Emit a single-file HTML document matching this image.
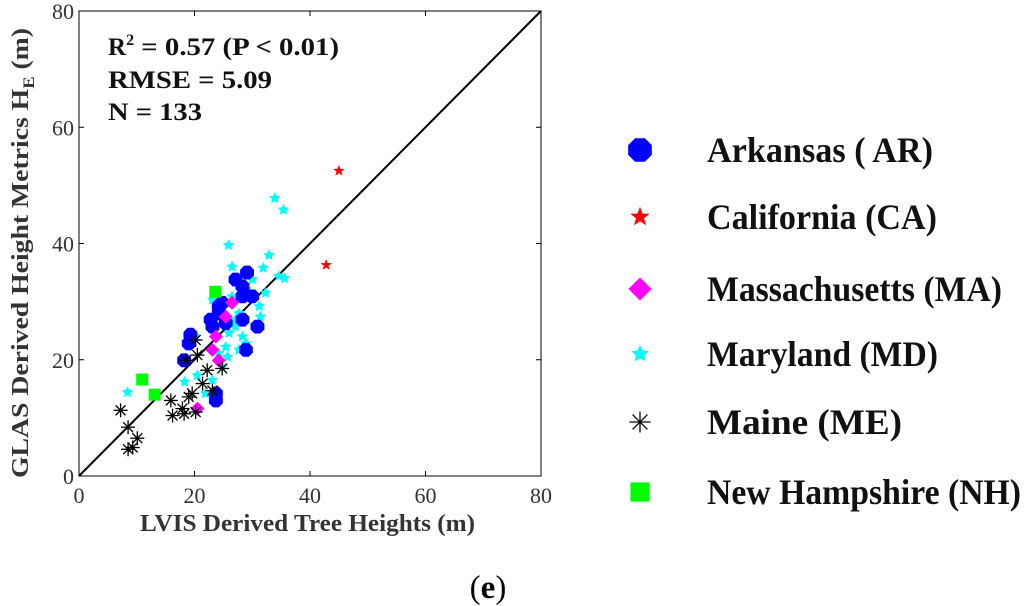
<!DOCTYPE html>
<html><head><meta charset="utf-8"><style>
body{margin:0;background:#fff;}
svg{display:block;font-family:"Liberation Serif",serif;}
</style></head><body>
<svg id="chart" width="1024" height="606" xmlns="http://www.w3.org/2000/svg"></svg>
<script>
const xTicks=[0,20,40,60,80];
const yTicks=[0,20,40,60,80];
const arX=[29.1,28.3,28.3,24.2,22.8,23.1,30.9,28.9,19.3,19.0,18.2,23.7,24.2,27.1,30.0,24.8,28.3,25.4,23.7];
const arY=[35.0,32.6,30.9,29.2,26.9,25.7,25.7,21.7,24.3,22.8,19.9,13.0,28.0,33.8,30.9,29.8,26.9,26.3,14.2];
const caX=[45.0,42.8];
const caY=[52.5,36.3];
const maX=[25.4,23.7,23.1,24.2,20.5,26.5];
const maY=[27.4,24.0,21.7,19.9,11.6,29.8];
const mdX=[33.9,35.4,25.9,32.9,26.5,31.9,35.6,34.6,27.7,28.9,32.3,31.2,31.4,23.1,24.2,27.7,27.1,26.0,28.3,28.9,25.4,24.2,20.2,20.5,18.3,8.4,21.9,23.1,24.8,26.5,30.0,27.1,23.7,25.7,27.7];
const mdY=[47.8,45.8,39.7,38.0,36.0,35.8,34.0,34.4,33.8,32.1,31.5,29.2,27.4,30.3,29.2,28.0,25.7,24.6,24.0,22.8,22.2,21.1,24.0,17.3,16.2,14.4,14.2,16.5,18.8,30.9,33.8,26.9,25.7,20.5,21.7];
const meX=[7.2,8.5,10.1,8.5,9.3,15.9,16.2,17.9,19.0,20.2,21.4,22.2,23.1,24.8,20.2,20.5,18.5,19.6,18.2];
const meY=[11.3,8.4,6.5,4.6,4.9,13.0,10.4,11.6,13.6,11.0,15.9,18.2,14.7,18.5,23.4,20.8,19.9,14.2,10.7];
const nhX=[10.95,13.1,23.6];
const nhY=[16.6,14.0,31.7];
const legendLabels=["Arkansas ( AR)","California (CA)","Massachusetts (MA)","Maryland (MD)","Maine (ME)","New Hampshire (NH)"];
const legendWidths=[226,230,295,231,195,314];

const NS="http://www.w3.org/2000/svg";
const svg=document.getElementById('chart');
const X0=79,X1=541,Y0=476,Y1=11;
const sx=v=>X0+(v/80)*(X1-X0);
const sy=v=>Y0-(v/80)*(Y0-Y1);
function mk(tag,at,parent){const e=document.createElementNS(NS,tag);for(const k in at)e.setAttribute(k,at[k]);(parent||svg).appendChild(e);return e;}
function starPts(cx,cy,R,r){let p=[];for(let i=0;i<10;i++){const a=-Math.PI/2+i*Math.PI/5;const rr=i%2?r:R;p.push((cx+rr*Math.cos(a)).toFixed(1)+','+(cy+rr*Math.sin(a)).toFixed(1));}return p.join(' ');}
function octPts(cx,cy,R){let p=[];for(let i=0;i<8;i++){const a=Math.PI/8+i*Math.PI/4;p.push((cx+R*Math.cos(a)).toFixed(1)+','+(cy+R*Math.sin(a)).toFixed(1));}return p.join(' ');}
function marker(type,cx,cy,g,scale){
  scale=scale||1;
  if(type==='ar')return mk('polygon',{points:octPts(cx,cy,7.5*scale),fill:'#0000ff'},g);
  if(type==='ca')return mk('polygon',{points:starPts(cx,cy,6*scale,2.5*scale),fill:'#ff0000'},g);
  if(type==='ma')return mk('polygon',{points:`${cx},${cy-7*scale} ${cx+7*scale},${cy} ${cx},${cy+7*scale} ${cx-7*scale},${cy}`,fill:'#ff00ff'},g);
  if(type==='md')return mk('polygon',{points:starPts(cx,cy,6*scale,3*scale),fill:'#00ffff'},g);
  if(type==='nh')return mk('rect',{x:cx-6*scale,y:cy-6*scale,width:12*scale,height:12*scale,fill:'#00ff00'},g);
  if(type==='me'){const gg=mk('g',{stroke:'#000','stroke-width':1.3},g);const R=7*scale;
    for(let i=0;i<4;i++){const a=i*Math.PI/4;mk('line',{x1:cx-R*Math.cos(a),y1:cy-R*Math.sin(a),x2:cx+R*Math.cos(a),y2:cy+R*Math.sin(a)},gg);}return gg;}
}
const box=mk('rect',{x:X0,y:Y1,width:X1-X0,height:Y0-Y1,fill:'none',stroke:'#000','stroke-width':1});

const xg=mk('g',{});
xTicks.forEach(t=>{mk('line',{x1:sx(t),x2:sx(t),y1:Y0,y2:Y0-5,stroke:'#000'},xg);mk('line',{x1:sx(t),x2:sx(t),y1:Y1,y2:Y1+5,stroke:'#000'},xg);
  const tx=mk('text',{x:sx(t),y:Y0+27,'text-anchor':'middle','font-size':22,fill:'#333'},xg);tx.textContent=t;
  });
const yg=mk('g',{});
yTicks.forEach(t=>{mk('line',{x1:X0,x2:X0+5,y1:sy(t),y2:sy(t),stroke:'#000'},yg);mk('line',{x1:X1,x2:X1-5,y1:sy(t),y2:sy(t),stroke:'#000'},yg);
  const tx=mk('text',{x:X0-5,y:sy(t)+8,'text-anchor':'end','font-size':22,fill:'#333'},yg);tx.textContent=t;
  });
const ln=mk('line',{x1:sx(0),y1:sy(0),x2:sx(80),y2:sy(80),stroke:'#000','stroke-width':2});

const series=[['md',mdX,mdY],['ar',arX,arY],['ma',maX,maY],['me',meX,meY],['nh',nhX,nhY],['ca',caX,caY]];
series.forEach(([t,xs,ys])=>{const g=mk('g',{});
  xs.forEach((v,i)=>{const m=marker(t,sx(v),sy(ys[i]),g);});});
const xt=mk('text',{x:140,y:531,'font-size':24,'font-weight':'bold',fill:'#333',textLength:335,lengthAdjust:'spacingAndGlyphs'});xt.textContent='LVIS Derived Tree Heights (m)';

const yt=mk('text',{transform:'translate(28,478) rotate(-90)','font-size':24,'font-weight':'bold',fill:'#333',textLength:450,lengthAdjust:'spacingAndGlyphs'});
yt.innerHTML='GLAS Derived Height Metrics H<tspan font-size="16" dy="6">E</tspan><tspan dy="-6"> (m)</tspan>';

const st=mk('g',{'font-size':25,'font-weight':'bold',fill:'#111'});
const s1=mk('text',{x:108,y:55},st);
const s1a=mk('tspan',{},s1);s1a.textContent='R';
const s1b=mk('tspan',{'font-size':16,dy:-10},s1);s1b.textContent='2';
const s1c=mk('tspan',{dy:10,textLength:205,lengthAdjust:'spacingAndGlyphs'},s1);s1c.textContent=' = 0.57 (P < 0.01)';
const s2=mk('text',{x:108,y:88,textLength:164,lengthAdjust:'spacingAndGlyphs'},st);s2.textContent='RMSE = 5.09';
const s3=mk('text',{x:108,y:120,textLength:94,lengthAdjust:'spacingAndGlyphs'},st);s3.textContent='N = 133';
const types=['ar','ca','ma','md','me','nh'];const ly=[150,217,289,354,422,492];
const lscale={ar:1.7,ca:1.7,ma:1.65,md:1.5,me:1.5,nh:1.6};
const lg=mk('g',{});
types.forEach((t,i)=>{const e=mk('g',{},lg);
  marker(t,640,ly[i],e,lscale[t]);
  const tx=mk('text',{x:707,y:ly[i]+12,'font-size':36,'font-weight':'bold',fill:'#111',textLength:legendWidths[i],lengthAdjust:'spacingAndGlyphs'},e);tx.textContent=legendLabels[i];});
const pe=mk('text',{x:488,y:598,'text-anchor':'middle','font-size':33,fill:'#000'});pe.innerHTML='(<tspan font-weight="bold">e</tspan>)';

</script>
</body></html>
